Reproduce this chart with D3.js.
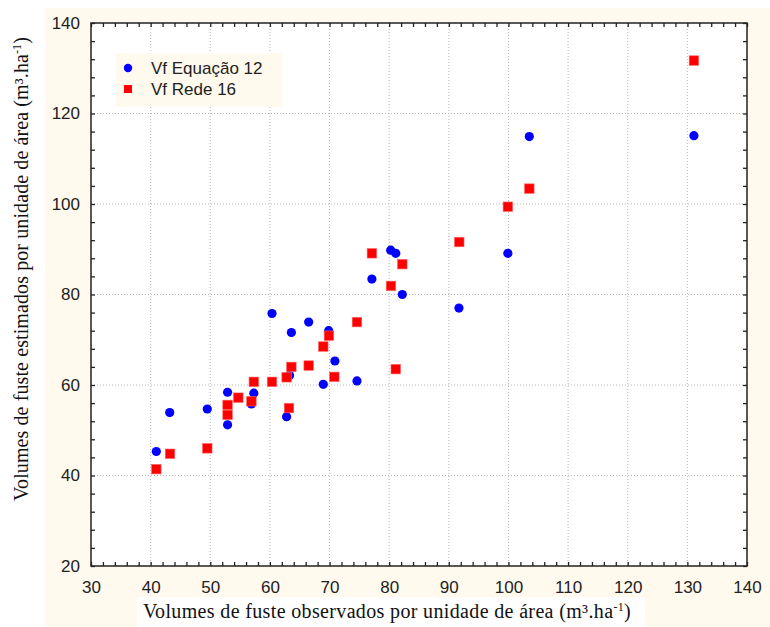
<!DOCTYPE html>
<html>
<head>
<meta charset="utf-8">
<script src="https://cdn.jsdelivr.net/npm/d3@7"></script>
<style>
  html, body { margin: 0; padding: 0; background: #ffffff; }
  svg { display: block; }
</style>
</head>
<body>
<svg id="chart" width="770" height="627"></svg>
<script>
// ---- data ----
const seriesNames = ["Vf Equação 12", "Vf Rede 16"];

const equacaoX = [40.95, 43.2, 49.5, 52.9, 52.9, 56.9, 57.3, 60.35, 62.8, 63.3, 63.6, 66.5, 68.95, 69.85, 70.9, 74.6, 77.1, 80.25, 81.1, 82.2, 91.7, 99.9, 103.5, 131.1];
const equacaoY = [45.3, 53.9, 54.7, 58.4, 51.2, 55.8, 58.2, 75.8, 53.0, 62.1, 71.6, 73.9, 60.15, 72.0, 65.3, 60.9, 83.4, 89.8, 89.1, 80.0, 77.0, 89.1, 114.9, 115.1];

const redeX = [40.95, 43.25, 49.5, 52.9, 52.9, 54.7, 56.9, 57.3, 60.35, 62.8, 63.2, 63.6, 66.5, 68.95, 69.9, 70.8, 74.6, 77.1, 80.3, 81.1, 82.2, 91.75, 99.9, 103.5, 131.1];
const redeY = [41.4, 44.8, 46.0, 55.6, 53.4, 57.2, 56.4, 60.7, 60.7, 61.7, 54.9, 64.0, 64.3, 68.5, 70.9, 61.8, 73.9, 89.1, 81.9, 63.5, 86.7, 91.6, 99.4, 103.4, 131.7];

const xTicks = [30, 40, 50, 60, 70, 80, 90, 100, 110, 120, 130, 140];
const yTicks = [20, 40, 60, 80, 100, 120, 140];
const xDomain = [30, 140];
const yDomain = [20, 140];

// ---- layout ----
const W = 770, H = 627;
const plot = { left: 91, right: 747, top: 23, bottom: 566 };
const cream = "#FFF9EE";

const svg = d3.select("#chart");

// backgrounds
svg.append("rect").attr("x", 0).attr("y", 0).attr("width", W).attr("height", H).attr("fill", "#ffffff");
svg.append("rect").attr("x", 45).attr("y", 8).attr("width", W - 45).attr("height", H - 8).attr("fill", cream);
svg.append("rect").attr("x", 137).attr("y", 597).attr("width", 508).attr("height", 30).attr("fill", "#ffffff");
svg.append("rect").attr("x", plot.left).attr("y", plot.top)
  .attr("width", plot.right - plot.left).attr("height", plot.bottom - plot.top).attr("fill", "#ffffff");

const x = d3.scaleLinear().domain(xDomain).range([plot.left, plot.right]);
const y = d3.scaleLinear().domain(yDomain).range([plot.bottom, plot.top]);

// grid
const grid = svg.append("g");
grid.selectAll("line.gx").data(xTicks.slice(1, -1)).join("line")
  .attr("x1", d => x(d)).attr("x2", d => x(d))
  .attr("y1", plot.top).attr("y2", plot.bottom)
  .attr("stroke", "#b8b8b8").attr("stroke-width", 1).attr("stroke-dasharray", "1,2");
grid.selectAll("line.gy").data(yTicks.slice(1, -1)).join("line")
  .attr("y1", d => y(d)).attr("y2", d => y(d))
  .attr("x1", plot.left).attr("x2", plot.right)
  .attr("stroke", "#b8b8b8").attr("stroke-width", 1).attr("stroke-dasharray", "1,2");

// axes with inward ticks
const xMinor = d3.range(xDomain[0], xDomain[1] + 0.001, 2);
const yMinor = d3.range(yDomain[0], yDomain[1] + 0.001, 4);

const axisColor = "#222";
function styleAxis(g) {
  g.select(".domain").remove();
  g.selectAll(".tick line").attr("stroke", axisColor).attr("stroke-width", 1.3);
}

svg.append("g").attr("transform", `translate(0,${plot.bottom})`)
  .call(d3.axisBottom(x).tickValues(xMinor).tickSize(-4).tickFormat(""))
  .call(styleAxis);
svg.append("g").attr("transform", `translate(0,${plot.top})`)
  .call(d3.axisTop(x).tickValues(xMinor).tickSize(-4).tickFormat(""))
  .call(styleAxis);
svg.append("g").attr("transform", `translate(${plot.left},0)`)
  .call(d3.axisLeft(y).tickValues(yMinor).tickSize(-4).tickFormat(""))
  .call(styleAxis);
svg.append("g").attr("transform", `translate(${plot.right},0)`)
  .call(d3.axisRight(y).tickValues(yMinor).tickSize(-4).tickFormat(""))
  .call(styleAxis);

// tick labels
const xLab = svg.append("g").attr("transform", `translate(0,${plot.bottom})`)
  .call(d3.axisBottom(x).tickValues(xTicks).tickSize(0).tickPadding(15).tickFormat(d3.format("d")));
xLab.select(".domain").remove();
xLab.selectAll("text").attr("font-family", "'Liberation Sans', Arial, sans-serif")
  .attr("font-size", 17).attr("fill", "#222");

const yLab = svg.append("g").attr("transform", `translate(${plot.left},0)`)
  .call(d3.axisLeft(y).tickValues(yTicks).tickSize(0).tickPadding(11).tickFormat(d3.format("d")));
yLab.select(".domain").remove();
yLab.selectAll("text").attr("font-family", "'Liberation Sans', Arial, sans-serif")
  .attr("font-size", 17).attr("fill", "#222");

// frame
svg.append("rect").attr("x", plot.left).attr("y", plot.top)
  .attr("width", plot.right - plot.left).attr("height", plot.bottom - plot.top)
  .attr("fill", "none").attr("stroke", "#222").attr("stroke-width", 1.5);

// points
const eqData = equacaoX.map((v, i) => ({ x: v, y: equacaoY[i] }));
const rdData = redeX.map((v, i) => ({ x: v, y: redeY[i] }));

svg.append("g").selectAll("circle").data(eqData).join("circle")
  .attr("cx", d => x(d.x)).attr("cy", d => y(d.y)).attr("r", 4.6)
  .attr("fill", "#0000ff");

const sq = 9.5;
svg.append("g").selectAll("rect").data(rdData).join("rect")
  .attr("x", d => x(d.x) - sq / 2).attr("y", d => y(d.y) - sq / 2)
  .attr("width", sq).attr("height", sq)
  .attr("fill", "#ff0000").attr("stroke", "#ff6060").attr("stroke-width", 0.6);

// legend
const lg = svg.append("g");
lg.append("rect").attr("x", 116).attr("y", 53).attr("width", 166).attr("height", 54).attr("fill", cream);
lg.append("circle").attr("cx", 128).attr("cy", 68).attr("r", 4.2).attr("fill", "#0000ff");
lg.append("rect").attr("x", 124).attr("y", 85).attr("width", 8).attr("height", 8).attr("fill", "#ff0000");
lg.selectAll("text").data(seriesNames).join("text")
  .attr("x", 151).attr("y", (d, i) => 74 + i * 21)
  .attr("font-family", "'Liberation Sans', Arial, sans-serif").attr("font-size", 17)
  .attr("fill", "#222").text(d => d);

// axis titles
function unitTitle(sel, base) {
  sel.append("tspan").text(base + " (m³.ha");
  sel.append("tspan").attr("dy", -7).attr("font-size", 12).text("-1");
  sel.append("tspan").attr("dy", 7).text(")");
}
const xt = svg.append("text").attr("x", 387).attr("y", 618).attr("text-anchor", "middle")
  .attr("font-family", "'Liberation Serif', 'Times New Roman', serif").attr("font-size", 20)
  .attr("letter-spacing", 0.35).attr("fill", "#111");
unitTitle(xt, "Volumes de fuste observados por unidade de área");

const yt = svg.append("text").attr("transform", "translate(28,269) rotate(-90)").attr("text-anchor", "middle")
  .attr("font-family", "'Liberation Serif', 'Times New Roman', serif").attr("font-size", 20)
  .attr("letter-spacing", 0.1).attr("fill", "#111");
unitTitle(yt, "Volumes de fuste estimados por unidade de área");
</script>
</body>
</html>
